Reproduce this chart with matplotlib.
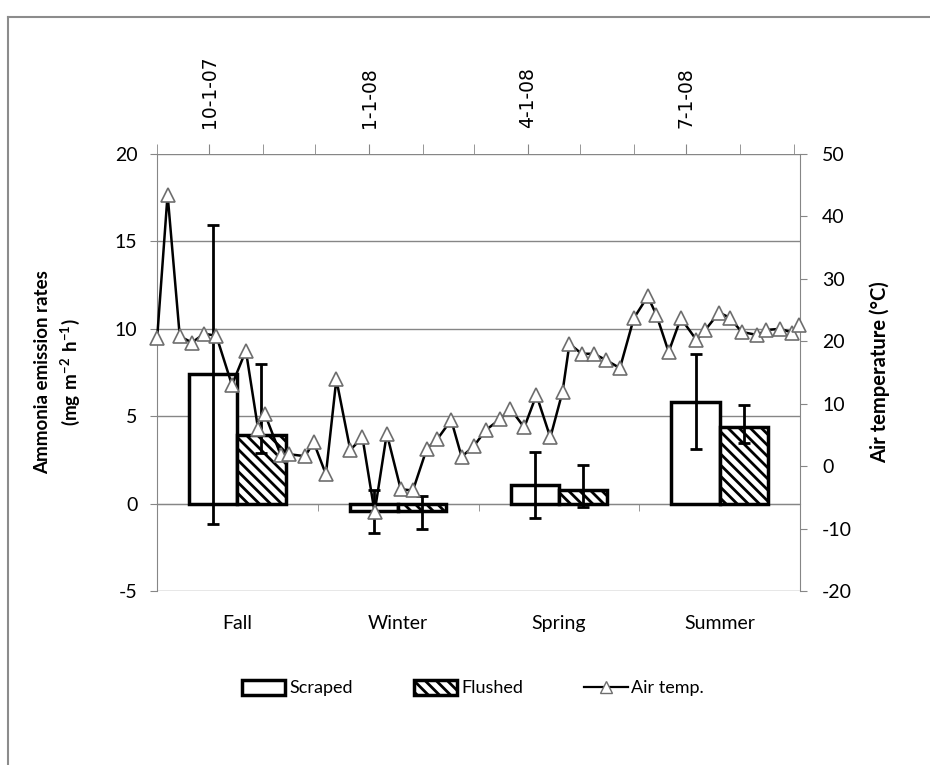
import matplotlib
matplotlib.use("Agg")
import matplotlib.pyplot as plt
import matplotlib.dates as mdates
from matplotlib.ticker import FuncFormatter
from matplotlib.patches import Patch
from matplotlib.lines import Line2D
import numpy as np
from datetime import datetime

# ---------------------------------------------------------------------------
# Data
# ---------------------------------------------------------------------------
seasons = ["Fall", "Winter", "Spring", "Summer"]

scraped = [7.4, -0.45, 1.05, 5.8]
scraped_err_lo = [8.55, 1.25, 1.9, 2.7]
scraped_err_hi = [8.55, 1.2, 1.9, 2.75]

flushed = [3.9, -0.45, 0.8, 4.4]
flushed_err_lo = [1.0, 1.0, 1.0, 0.95]
flushed_err_hi = [4.1, 0.9, 1.4, 1.25]

temp_dates = [
    "2007-09-01", "2007-09-07", "2007-09-14", "2007-09-21", "2007-09-28",
    "2007-10-05", "2007-10-14", "2007-10-22", "2007-10-29", "2007-11-02",
    "2007-11-11", "2007-11-16", "2007-11-25", "2007-11-30", "2007-12-07",
    "2007-12-13", "2007-12-21", "2007-12-28", "2008-01-04", "2008-01-11",
    "2008-01-19", "2008-01-26", "2008-02-03", "2008-02-09", "2008-02-17",
    "2008-02-23", "2008-03-01", "2008-03-08", "2008-03-16", "2008-03-22",
    "2008-03-30", "2008-04-06", "2008-04-14", "2008-04-21", "2008-04-25",
    "2008-05-02", "2008-05-09", "2008-05-16", "2008-05-24", "2008-06-01",
    "2008-06-09", "2008-06-14", "2008-06-21", "2008-06-28", "2008-07-07",
    "2008-07-12", "2008-07-20", "2008-07-26", "2008-08-02", "2008-08-11",
    "2008-08-16", "2008-08-24", "2008-08-31", "2008-09-04",
]
air_temp = [
    20.5, 43.5, 20.8, 19.8, 21.2,
    20.9, 13.0, 18.5, 6.0, 8.3,
    1.8, 1.9, 1.6, 3.8, -1.3,
    13.9, 2.6, 4.6, -7.4, 5.2,
    -3.7, -3.9, 2.8, 4.3, 7.4,
    1.5, 3.2, 5.8, 7.5, 9.2,
    6.2, 11.4, 4.6, 11.9, 19.6,
    18.0, 18.0, 17.0, 15.7, 23.7,
    27.2, 24.2, 18.3, 23.7, 20.2,
    21.8, 24.6, 23.8, 21.5, 21.0,
    21.8, 22.0, 21.4, 22.6,
]

# ---------------------------------------------------------------------------
# Style
# ---------------------------------------------------------------------------
plt.rcParams.update({
    "font.family": ["Lato", "DejaVu Sans"],
    "font.size": 14,
    "axes.unicode_minus": False,
    "mathtext.fontset": "custom",
    "mathtext.rm": "Lato",
    "mathtext.bf": "Lato:bold",
    "hatch.linewidth": 2.0,
})
GRAY = "#868686"

fig = plt.figure(figsize=(9.3, 7.65), dpi=100)
rect = [157 / 930, 1 - 591 / 765, (800 - 157) / 930, (591 - 154) / 765]
ax = fig.add_axes(rect)

# bars (primary axis, category x)
x = np.arange(len(seasons))
w = 0.3
ekw = dict(ecolor="black", elinewidth=2, capsize=4.5, capthick=2)
ax.bar(x - w / 2, scraped, w, color="white", edgecolor="black", linewidth=2.5,
       yerr=[scraped_err_lo, scraped_err_hi], error_kw=ekw, zorder=3)
ax.bar(x + w / 2, flushed, w, color="white", edgecolor="black", linewidth=2.5,
       hatch="\\\\\\", yerr=[flushed_err_lo, flushed_err_hi], error_kw=ekw, zorder=3)

ax.set_xlim(-0.5, 3.5)
ax.set_ylim(-5, 20)
ax.set_yticks(range(-5, 21, 5))
ax.yaxis.grid(True, color=GRAY, linewidth=1)
ax.set_axisbelow(True)

for s in ["top", "right"]:
    ax.spines[s].set_visible(False)
ax.spines["left"].set_color(GRAY)
ax.spines["bottom"].set_color(GRAY)
ax.spines["bottom"].set_position(("data", 0))
ax.set_xticks([])
ax.set_xticks(np.arange(-0.5, 4, 1), minor=True)
ax.tick_params(axis="x", which="minor", direction="out", length=5, color=GRAY)
ax.tick_params(axis="y", direction="out", length=5, color=GRAY, pad=9)

# season labels at the bottom of the plot area
sec = ax.secondary_xaxis("bottom")
sec.set_xticks(x, seasons)
sec.tick_params(length=0, pad=17)
sec.spines["bottom"].set_visible(False)

# air temperature (secondary axes: date on top, temperature on right)
ax2 = fig.add_axes(rect)
ax2.patch.set_visible(False)
for s in ["left", "bottom", "top"]:
    ax2.spines[s].set_visible(False)
ax2.spines["right"].set_color(GRAY)
ax2.xaxis.tick_top()
ax2.yaxis.tick_right()

dates = [datetime.strptime(d, "%Y-%m-%d") for d in temp_dates]
ax2.plot(dates, air_temp, "-", color="black", linewidth=1.8, marker="^",
         markersize=9.5, markerfacecolor="white", markeredgecolor="#6e6e6e",
         markeredgewidth=1.2, clip_on=False, zorder=4)

ax2.set_ylim(-20, 50)
ax2.set_yticks(range(-20, 51, 10))
ax2.set_xlim(datetime(2007, 8, 31, 22), datetime(2008, 9, 4, 12))
ax2.xaxis.set_major_locator(mdates.MonthLocator(bymonth=[1, 4, 7, 10]))
ax2.xaxis.set_minor_locator(mdates.MonthLocator())


def date_label(v, pos):
    d = mdates.num2date(v)
    return f"{d.month}-{d.day}-{d.strftime('%y')}"


ax2.xaxis.set_major_formatter(FuncFormatter(date_label))
ax2.tick_params(axis="x", which="both", direction="out", length=7, color=GRAY)
ax2.tick_params(axis="x", which="major", pad=12, labelrotation=90,
                labelfontfamily="DejaVu Sans", labelsize=13.5)
ax2.tick_params(axis="y", direction="out", length=5, color=GRAY, pad=11)

# axis titles
fig.text(58 / 930, 1 - 372 / 765,
         "Ammonia emission rates\n" + r"$\mathbf{(mg\ m^{-2}\ h^{-1})}$",
         rotation=90, ha="center", va="center", multialignment="center",
         fontweight="bold", fontsize=13.5, linespacing=1.4)
fig.text(880 / 930, 1 - 372 / 765, "Air temperature (°C)", rotation=90,
         ha="center", va="center", fontweight="bold", fontsize=14.5)

# legend
handles = [
    Patch(facecolor="white", edgecolor="black", linewidth=2.5),
    Patch(facecolor="white", edgecolor="black", linewidth=2.5, hatch="\\\\\\"),
    Line2D([], [], color="black", linewidth=1.6, marker="^", markersize=9,
           markerfacecolor="white", markeredgecolor="#6e6e6e"),
]
fig.legend(handles, ["Scraped", "Flushed", "Air temp."], loc="center",
           bbox_to_anchor=(473 / 930, 1 - 688 / 765), ncol=3, frameon=False,
           fontsize=13, handlelength=2.4, handleheight=0.9, handletextpad=0.2,
           columnspacing=3.4)

# outer chart-area frame
fig.add_artist(Line2D([8 / 930, 8 / 930], [0, 1 - 17 / 765],
                      transform=fig.transFigure, color="#8c8c8c", linewidth=1.5))
fig.add_artist(Line2D([8 / 930, 1], [1 - 17 / 765, 1 - 17 / 765],
                      transform=fig.transFigure, color="#8c8c8c", linewidth=1.5))

fig.savefig("out.png", dpi=100)
plt.close(fig)
